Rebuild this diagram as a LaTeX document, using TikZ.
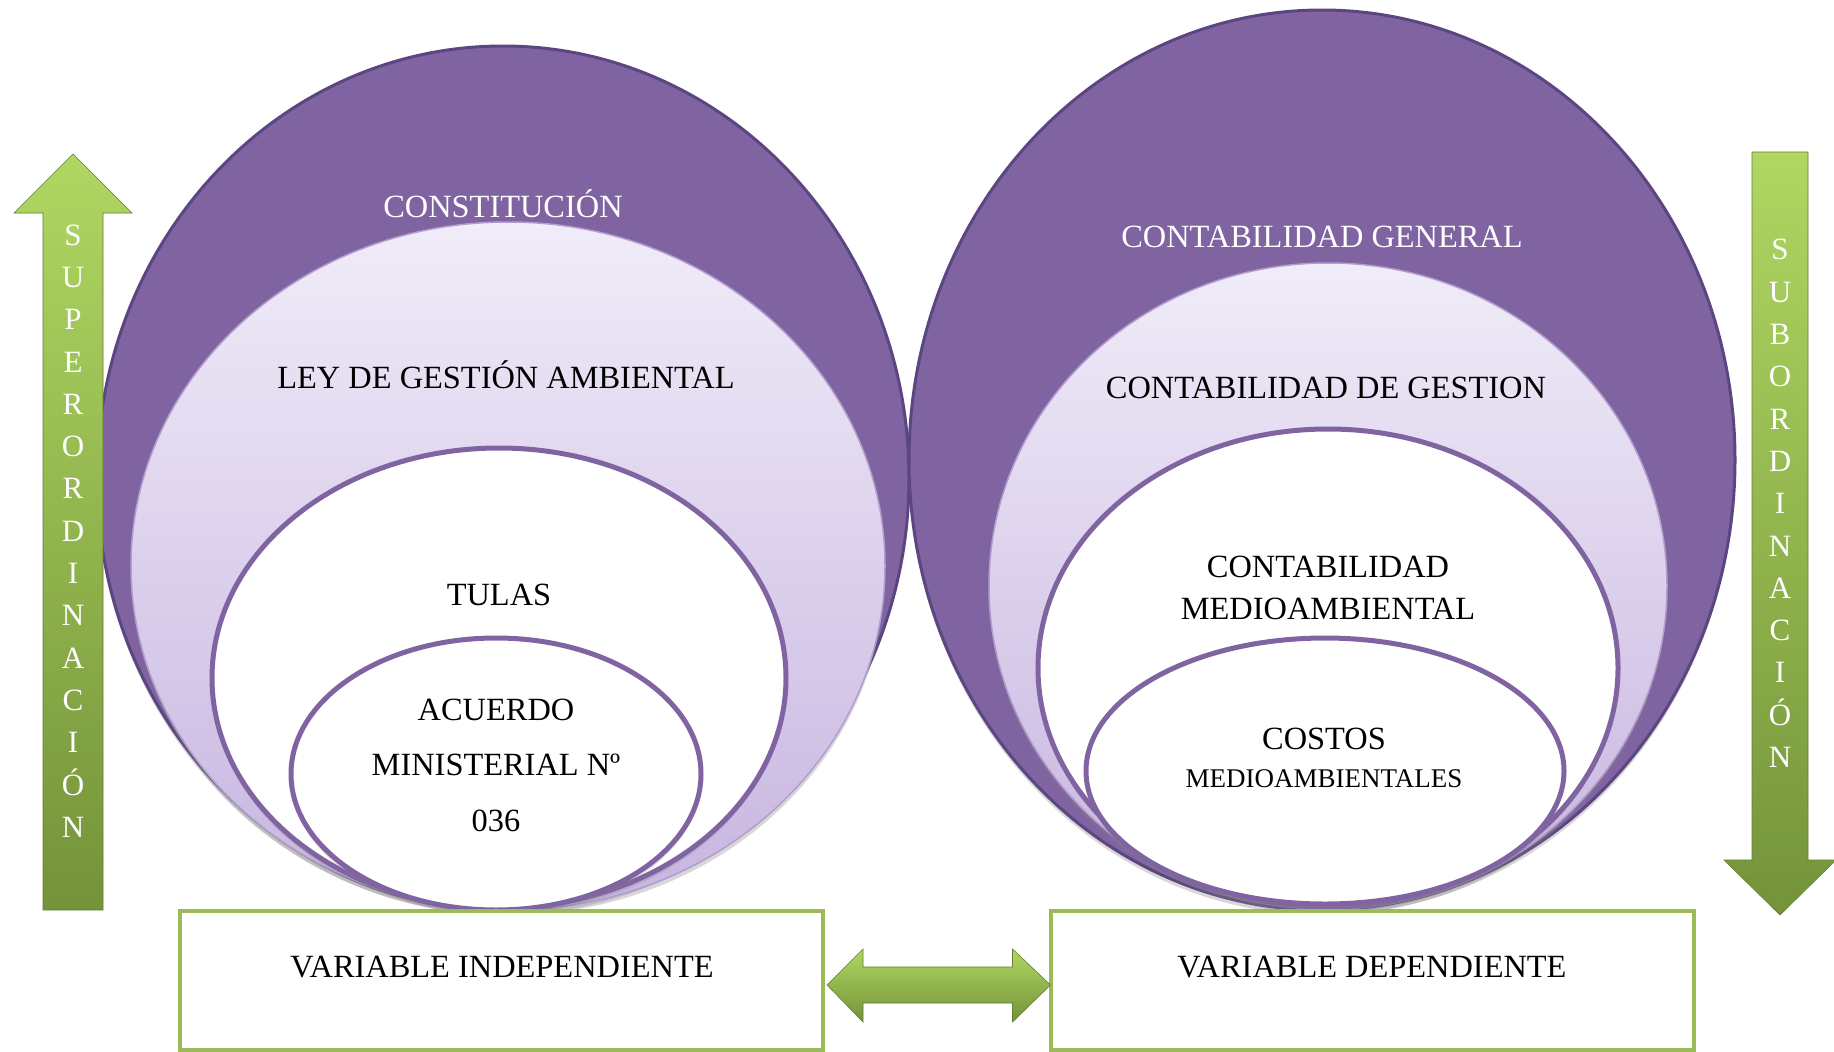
\documentclass[tikz,border=0pt]{standalone}
\usepackage{fontspec}
\setmainfont{Liberation Serif}
\usetikzlibrary{calc,shadows}
\definecolor{purp}{HTML}{8064A2}
\definecolor{purpdark}{HTML}{5C4682}
\definecolor{lavtop}{HTML}{F0ECF8}
\definecolor{lavbot}{HTML}{C7B5E0}
\definecolor{grn}{HTML}{9BBB59}
\definecolor{grnlight}{HTML}{AFD762}
\definecolor{grndark}{HTML}{74933A}
\begin{document}
\begin{tikzpicture}[x=1pt,y=-1pt,
  outerell/.style={fill=purp,draw=purpdark,line width=3pt,
    drop shadow={shadow xshift=0pt,shadow yshift=-5pt,opacity=0.3}},
  midell/.style={top color=lavtop,bottom color=lavbot,draw=lavbot!70!purp,line width=1.5pt,
    drop shadow={shadow xshift=0pt,shadow yshift=-5pt,opacity=0.3}},
  innerell/.style={fill=white,draw=purp,line width=5pt,
    drop shadow={shadow xshift=0pt,shadow yshift=-5pt,opacity=0.25}},
  txt/.style={font=\fontsize{32.4}{38}\selectfont,align=center,inner sep=0pt},
  wtxt/.style={txt,text=white},
  vbox/.style={draw=grn,line width=4pt,fill=white,minimum width=643pt,minimum height=139pt,inner sep=0pt},
  letters/.style={font=\fontsize{31}{42.3}\selectfont,text=white,align=center,inner sep=0pt},
  greenarrow/.style={top color=grnlight,bottom color=grndark,draw=grndark!85!black,line width=0.6pt}
]
\useasboundingbox (0,0) rectangle (1834,1052);
\fill[white] (0,0) rectangle (1834,1052);

% left group of ellipses
\draw[outerell] (503,478) ellipse [x radius=406,y radius=432];
\draw[midell] (508,566) ellipse [x radius=377,y radius=344];
\draw[innerell] (499,678) ellipse [x radius=287,y radius=230];
\draw[innerell] (496,774) ellipse [x radius=205,y radius=136];

% right group of ellipses
\draw[outerell] (1322,460) ellipse [x radius=413,y radius=450];
\draw[midell] (1328,586) ellipse [x radius=339,y radius=323];
\draw[innerell] (1328,668) ellipse [x radius=290,y radius=239];
\draw[innerell] (1325,771) ellipse [x radius=239,y radius=133];

% texts in ellipses
\node[wtxt] (constitucion) at (503,204) {CONSTITUCIÓN};
\node[txt] (ley) at (506,375) {LEY DE GESTIÓN AMBIENTAL};
\node[txt] (tulas) at (499,595) {TULAS};
\node[txt,font=\fontsize{32.4}{55.5}\selectfont] (acuerdo) at (496,765) {ACUERDO\\MINISTERIAL Nº\\036};

\node[wtxt] (cgeneral) at (1322,237) {CONTABILIDAD GENERAL};
\node[txt] (cgestion) at (1326,388) {CONTABILIDAD DE GESTION};
\node[txt,font=\fontsize{32.4}{42}\selectfont] (cmedio) at (1328,588) {CONTABILIDAD\\MEDIOAMBIENTAL};
\node[txt] (costos) at (1324,739) {COSTOS};
\node[txt,font=\fontsize{27}{30}\selectfont] (costosmedio) at (1324,779) {MEDIOAMBIENTALES};

% variable boxes
\node[vbox] (vi) at (501.5,980.5) {};
\node[vbox] (vd) at (1372,980.5) {};
\node[txt] (vitxt) at (502,967) {VARIABLE INDEPENDIENTE};
\node[txt] (vdtxt) at (1372,967) {VARIABLE DEPENDIENTE};

% double arrow between boxes
\coordinate (L) at (vi.east);
\coordinate (R) at (vd.west);
\draw[greenarrow] ($(L)+(2,4.5)$) -- ($(L)+(38,-31.5)$) -- ($(L)+(38,-13.5)$)
  -- ($(R)+(-36,-13.5)$) -- ($(R)+(-36,-31.5)$) -- ($(R)+(2,4.5)$)
  -- ($(R)+(-36,41.5)$) -- ($(R)+(-36,22.5)$) -- ($(L)+(38,22.5)$)
  -- ($(L)+(38,41.5)$) -- cycle;

% left up arrow
\draw[greenarrow] (73,154) -- (132,213) -- (103,213) -- (103,910) -- (43,910) -- (43,213) -- (14,213) -- cycle;
\node[letters] (super) at (73,531) {S\\U\\P\\E\\R\\O\\R\\D\\I\\N\\A\\C\\I\\Ó\\N};

% right down arrow
\draw[greenarrow] (1752,152) -- (1808,152) -- (1808,860) -- (1836,860) -- (1780,915) -- (1724,860) -- (1752,860) -- cycle;
\node[letters] (sub) at (1780,503.5) {S\\U\\B\\O\\R\\D\\I\\N\\A\\C\\I\\Ó\\N};
\end{tikzpicture}
\end{document}
